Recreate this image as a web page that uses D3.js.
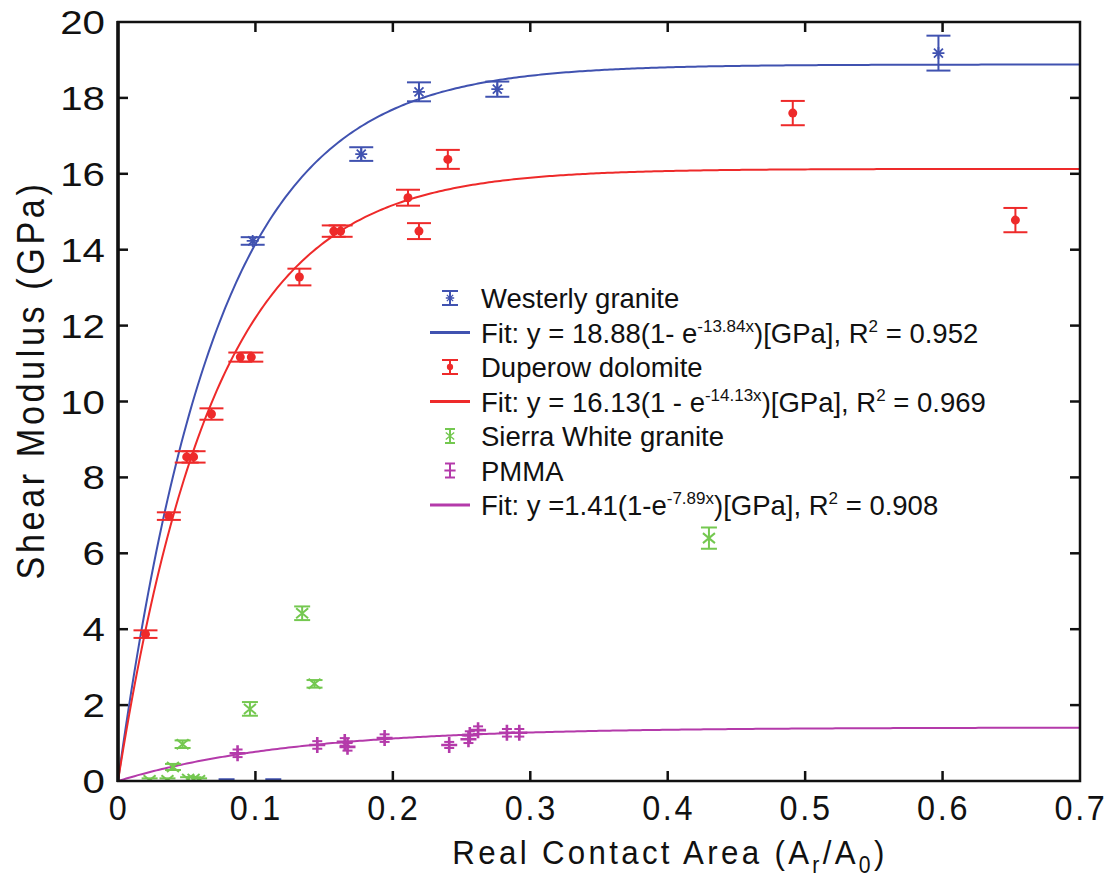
<!DOCTYPE html>
<html>
<head>
<meta charset="utf-8">
<script src="https://cdn.jsdelivr.net/npm/d3@7"></script>
<style>
  body { margin: 0; background: #fff; }
  text { font-family: "Liberation Sans", Arial, sans-serif; fill: #111; }
</style>
</head>
<body>
<div id="chart"></div>
<script>
// measured points, x = Ar/A0, y = shear modulus (GPa), e = error half-height
var westX = [0.098, 0.177, 0.219, 0.276, 0.597];
var westY = [14.23, 16.52, 18.16, 18.23, 19.18];
var westE = [0.1, 0.18, 0.25, 0.2, 0.46];
// westerly samples that gave no measurable modulus (sit on the axis)
var westZeroX = [0.079, 0.113];

var dupX = [0.020, 0.037, 0.050, 0.055, 0.068, 0.089, 0.097, 0.132, 0.157, 0.162, 0.211, 0.219, 0.240, 0.491, 0.653];
var dupY = [3.87, 6.98, 8.54, 8.54, 9.67, 11.17, 11.17, 13.28, 14.49, 14.49, 15.37, 14.49, 16.38, 17.6, 14.78];
var dupE = [0.1, 0.1, 0.15, 0.15, 0.15, 0.12, 0.12, 0.22, 0.15, 0.15, 0.21, 0.21, 0.25, 0.32, 0.32];

var swgX = [0.023, 0.036, 0.040, 0.047, 0.051, 0.055, 0.059, 0.096, 0.134, 0.143, 0.430];
var swgY = [0.02, 0.02, 0.37, 0.97, 0.05, 0.05, 0.02, 1.9, 4.42, 2.56, 6.4];
var swgE = [0.05, 0.05, 0.08, 0.1, 0.05, 0.05, 0.05, 0.18, 0.18, 0.1, 0.28];

var pmmaX = [0.087, 0.145, 0.165, 0.167, 0.194, 0.241, 0.256, 0.255, 0.262, 0.283, 0.292];
var pmmaY = [0.73, 0.95, 1.03, 0.9, 1.13, 0.95, 1.21, 1.1, 1.34, 1.27, 1.27];
var pmmaE = [0.1, 0.1, 0.1, 0.1, 0.1, 0.08, 0.1, 0.1, 0.1, 0.1, 0.1];

// exponential fits y = A(1 - e^(-kx))
var fitA = [18.88, 16.13, 1.41];
var fitK = [13.84, 14.13, 7.89];

var xTicks = [0, 0.1, 0.2, 0.3, 0.4, 0.5, 0.6, 0.7];
var yTicks = [0, 2, 4, 6, 8, 10, 12, 14, 16, 18, 20];

var width = 1110, height = 879;
var margin = {left: 118, top: 22, right: 30, bottom: 98};

var blue = "#4052b0", red = "#ee2a2a", green = "#74c850", magenta = "#b43aaa";

var svg = d3.select("#chart").append("svg")
  .attr("width", width)
  .attr("height", height);

var x = d3.scaleLinear().domain([0, 0.7]).range([margin.left, width - margin.right]);
var y = d3.scaleLinear().domain([0, 20]).range([height - margin.bottom, margin.top]);

svg.append("clipPath").attr("id", "plot")
  .append("rect")
  .attr("x", x(0)).attr("y", y(20))
  .attr("width", x(0.7) - x(0)).attr("height", y(0) - y(20));

var g = svg.append("g").attr("clip-path", "url(#plot)");

// fit curves
var fitColors = [blue, red, magenta];
var xs = d3.range(0, 0.7005, 0.002);
fitA.forEach(function(A, i) {
  var line = d3.line()
    .x(function(d) { return x(d); })
    .y(function(d) { return y(A * (1 - Math.exp(-fitK[i] * d))); });
  g.append("path")
    .datum(xs)
    .attr("d", line)
    .attr("fill", "none")
    .attr("stroke", fitColors[i])
    .attr("stroke-width", 2);
});

function rows(xa, ya, ea) {
  return xa.map(function(v, i) { return {x: v, y: ya[i], e: ea[i]}; });
}

function errorBars(data, color, cap) {
  var eb = g.append("g").attr("stroke", color).attr("stroke-width", 2);
  data.forEach(function(d) {
    var cx = x(d.x), y1 = y(d.y + d.e), y0 = y(d.y - d.e);
    eb.append("line").attr("x1", cx).attr("x2", cx).attr("y1", y1).attr("y2", y0);
    eb.append("line").attr("x1", cx - cap).attr("x2", cx + cap).attr("y1", y1).attr("y2", y1);
    eb.append("line").attr("x1", cx - cap).attr("x2", cx + cap).attr("y1", y0).attr("y2", y0);
  });
}

// marker shapes
function asterisk(sel, color) {
  sel.append("path")
    .attr("d", "M-6,0H6M0,-6V6M-4.5,-4.5L4.5,4.5M-4.5,4.5L4.5,-4.5")
    .attr("stroke", color).attr("stroke-width", 1.8).attr("fill", "none");
}
function dot(sel, color) {
  sel.append("circle").attr("r", 4.5).attr("fill", color);
}
function cross(sel, color) {
  sel.append("path")
    .attr("d", "M-6,-5L6,5M-6,5L6,-5")
    .attr("stroke", color).attr("stroke-width", 2).attr("fill", "none");
}
function plus(sel, color) {
  sel.append("path")
    .attr("d", "M-8,0H8M0,-8V8")
    .attr("stroke", color).attr("stroke-width", 2.6).attr("fill", "none");
}

function drawSeries(data, color, cap, marker) {
  errorBars(data, color, cap);
  g.append("g").selectAll("g")
    .data(data)
    .enter().append("g")
    .attr("transform", function(d) { return "translate(" + x(d.x) + "," + y(d.y) + ")"; })
    .each(function() { marker(d3.select(this), color); });
}

drawSeries(rows(westX, westY, westE), blue, 12, asterisk);
drawSeries(rows(dupX, dupY, dupE), red, 12, dot);
drawSeries(rows(swgX, swgY, swgE), green, 8, cross);
drawSeries(rows(pmmaX, pmmaY, pmmaE), magenta, 5, plus);

// zero-valued westerly points: only their flat caps show on the axis
g.append("g").selectAll("line")
  .data(westZeroX)
  .enter().append("line")
  .attr("x1", function(d) { return x(d) - 8; })
  .attr("x2", function(d) { return x(d) + 8; })
  .attr("y1", y(0) - 1.5).attr("y2", y(0) - 1.5)
  .attr("stroke", blue).attr("stroke-width", 2.5);

// frame and inward ticks on all four sides
var frame = svg.append("g").attr("stroke", "#111").attr("fill", "none");
frame.append("rect")
  .attr("x", x(0)).attr("y", y(20))
  .attr("width", x(0.7) - x(0)).attr("height", y(0) - y(20))
  .attr("stroke-width", 2.5);
frame.append("line").attr("x1", x(0)).attr("x2", x(0)).attr("y1", y(0) + 1).attr("y2", y(20) - 1)
  .attr("stroke-width", 3.5);

xTicks.slice(1, -1).forEach(function(t) {
  frame.append("line").attr("x1", x(t)).attr("x2", x(t)).attr("y1", y(0)).attr("y2", y(0) - 10).attr("stroke-width", 2.5);
  frame.append("line").attr("x1", x(t)).attr("x2", x(t)).attr("y1", y(20)).attr("y2", y(20) + 10).attr("stroke-width", 2.5);
});
yTicks.slice(1, -1).forEach(function(t) {
  frame.append("line").attr("x1", x(0)).attr("x2", x(0) + 10).attr("y1", y(t)).attr("y2", y(t)).attr("stroke-width", 2.5);
  frame.append("line").attr("x1", x(0.7)).attr("x2", x(0.7) - 10).attr("y1", y(t)).attr("y2", y(t)).attr("stroke-width", 2.5);
});

// tick labels: y labels wide, x labels narrow and spaced out
svg.append("g").selectAll("text")
  .data(yTicks)
  .enter().append("text")
  .attr("transform", function(d) { return "translate(" + (x(0) - 13) + "," + (y(d) + 12) + ") scale(1.22,1)"; })
  .attr("text-anchor", "end")
  .attr("font-size", 33)
  .text(function(d) { return d; });

svg.append("g").selectAll("text")
  .data(xTicks)
  .enter().append("text")
  .attr("transform", function(d) { return "translate(" + (x(d) + 1) + "," + (y(0) + 39) + ") scale(0.9,1)"; })
  .attr("text-anchor", "middle")
  .attr("font-size", 36)
  .attr("letter-spacing", 3)
  .text(function(d) { return d; });

// axis titles
var xt = svg.append("text")
  .attr("transform", "translate(" + 670 + "," + 864 + ") scale(0.92,1)")
  .attr("text-anchor", "middle")
  .attr("font-size", 34)
  .attr("letter-spacing", 3.6);
xt.append("tspan").text("Real Contact Area (A");
xt.append("tspan").attr("font-size", 23).attr("dy", 9).text("r");
xt.append("tspan").attr("dy", -9).text("/A");
xt.append("tspan").attr("font-size", 23).attr("dy", 9).text("0");
xt.append("tspan").attr("dy", -9).text(")");

svg.append("text")
  .attr("transform", "translate(44,380) rotate(-90) scale(0.9,1)")
  .attr("text-anchor", "middle")
  .attr("font-size", 38)
  .attr("letter-spacing", 4)
  .text("Shear Modulus (GPa)");

// legend
var legend = svg.append("g");
var legendRows = [
  {kind: "pt", color: blue, cap: 8, marker: asterisk, label: ["Westerly granite"]},
  {kind: "fit", color: blue, label: ["Fit: y = 18.88(1- e", "-13.84x", ")[GPa], R", "2", " = 0.952"]},
  {kind: "pt", color: red, cap: 8, marker: dot, label: ["Duperow dolomite"]},
  {kind: "fit", color: red, label: ["Fit: y = 16.13(1 - e", "-14.13x", ")[GPa], R", "2", " = 0.969"]},
  {kind: "pt", color: green, cap: 5, marker: cross, label: ["Sierra White granite"]},
  {kind: "pt", color: magenta, cap: 5, marker: plus, label: ["PMMA"]},
  {kind: "fit", color: magenta, label: ["Fit: y =1.41(1-e", "-7.89x", ")[GPa], R", "2", " = 0.908"]}
];
legendRows.forEach(function(r, i) {
  var cy = 298 + i * 34.5;
  var row = legend.append("g").attr("transform", "translate(450," + cy + ")");
  if (r.kind === "fit") {
    row.append("line").attr("x1", -20).attr("x2", 20).attr("stroke", r.color).attr("stroke-width", 3);
  } else {
    var s = row.append("g").attr("stroke", r.color).attr("stroke-width", 2);
    s.append("line").attr("y1", -7).attr("y2", 7);
    s.append("line").attr("x1", -r.cap).attr("x2", r.cap).attr("y1", -7).attr("y2", -7);
    s.append("line").attr("x1", -r.cap).attr("x2", r.cap).attr("y1", 7).attr("y2", 7);
    var m = row.append("g").attr("transform", "scale(0.7)");
    r.marker(m, r.color);
  }
  var t = row.append("text").attr("x", 31).attr("y", 10).attr("font-size", 27.5);
  r.label.forEach(function(s, j) {
    if (j % 2 === 1) {
      t.append("tspan").attr("font-size", 17).attr("dy", -11).text(s);
    } else {
      t.append("tspan").attr("dy", j === 0 ? 0 : 11).text(s);
    }
  });
});
</script>
</body>
</html>
